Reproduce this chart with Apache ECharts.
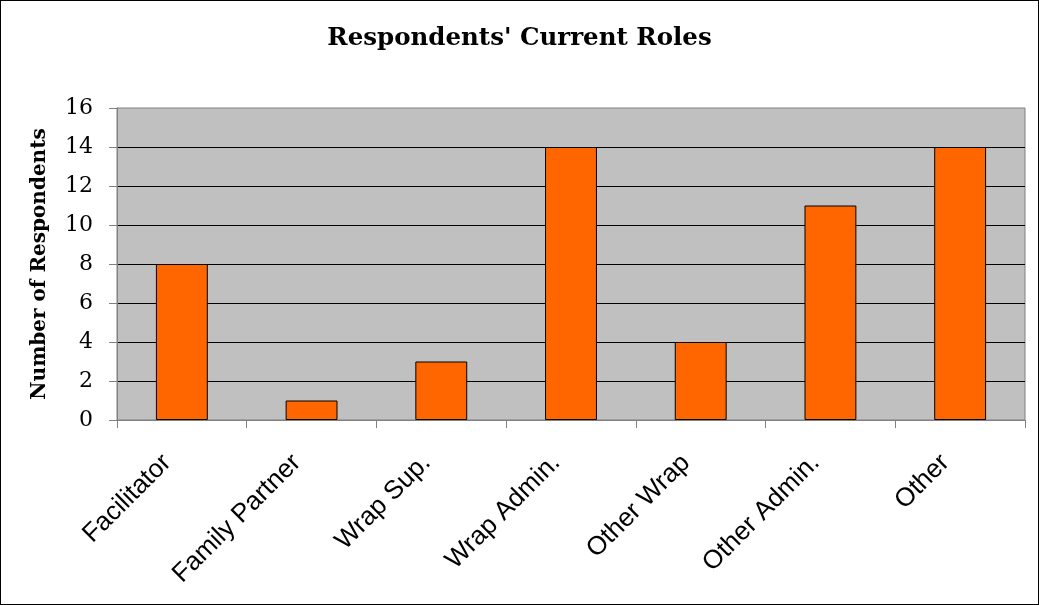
<!DOCTYPE html>
<html>
<head>
<meta charset="utf-8">
<script src="https://cdn.jsdelivr.net/npm/echarts@6/dist/echarts.min.js"></script>
<style>
  html, body { margin: 0; padding: 0; background: #fff; }
  #chart { width: 1039px; height: 605px; box-sizing: border-box; border: 1px solid #000; }
</style>
</head>
<body>
<div id="chart"></div>
<script>
// Respondents by current role
const roles = ['Facilitator', 'Family Partner', 'Wrap Sup.', 'Wrap Admin.', 'Other Wrap', 'Other Admin.', 'Other'];
const respondents = [8, 1, 3, 14, 4, 11, 14];
const yTicks = { min: 0, max: 16, step: 2 };

const chart = echarts.init(document.getElementById('chart'), null, { renderer: 'canvas' });
const serif = '"DejaVu Serif", "Liberation Serif", serif';

chart.setOption({
  animation: false,
  backgroundColor: '#ffffff',
  title: {
    text: "Respondents' Current Roles",
    left: 'center',
    top: 20,
    padding: [5, 5, 5, 17],
    textStyle: { fontFamily: serif, fontWeight: 'bold', fontSize: 24.5, color: '#000' }
  },
  grid: {
    left: 116, right: 13, top: 107, bottom: 184,
    show: true, backgroundColor: '#c0c0c0', borderColor: '#808080', borderWidth: 1
  },
  xAxis: {
    type: 'category',
    data: roles,
    boundaryGap: true,
    axisLine: { lineStyle: { color: '#808080', width: 1 } },
    axisTick: { show: true, length: 8, alignWithLabel: false, lineStyle: { color: '#808080' } },
    axisLabel: {
      rotate: 45, interval: 0, margin: 24,
      padding: [0, 21, 0, 0],
      fontFamily: '"Liberation Sans", Arial, sans-serif', fontSize: 26, color: '#000'
    },
    splitLine: { show: false }
  },
  yAxis: {
    type: 'value',
    min: yTicks.min, max: yTicks.max, interval: yTicks.step,
    name: 'Number of Respondents',
    nameLocation: 'middle',
    nameGap: 67,
    nameTextStyle: { fontFamily: serif, fontWeight: 'bold', fontSize: 20, color: '#000' },
    axisLine: { show: true, lineStyle: { color: '#808080', width: 1 } },
    axisTick: { show: true, length: 8, lineStyle: { color: '#808080' } },
    axisLabel: { fontFamily: serif, fontSize: 22, color: '#000', margin: 24 },
    splitLine: { show: true, showMinLine: false, showMaxLine: false, lineStyle: { color: '#000', width: 1 } }
  },
  series: [{
    type: 'bar',
    data: respondents,
    barWidth: '40%',
    itemStyle: { color: '#ff6600', borderColor: '#000', borderWidth: 1 }
  }]
});
</script>
</body>
</html>
